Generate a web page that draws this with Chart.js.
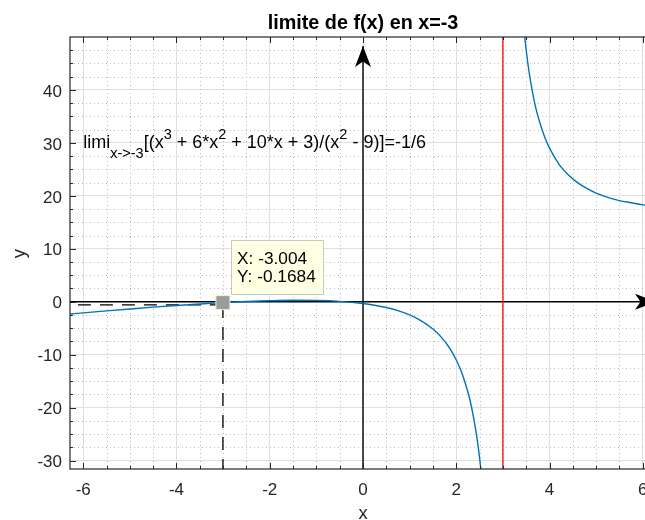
<!DOCTYPE html>
<html>
<head>
<meta charset="utf-8">
<script src="https://cdn.jsdelivr.net/npm/chart.js@4.4.1/dist/chart.umd.min.js"></script>
<style>
html,body{margin:0;padding:0;background:#fff;overflow:hidden;width:645px;height:520px;}
#wrap{width:645px;height:520px;overflow:hidden;position:relative;}
canvas{display:block;}
</style>
</head>
<body>
<div id="wrap"><canvas id="c" width="670" height="520"></canvas></div>
<script>
// ---- data ----
const titleText = 'limite de f(x) en x=-3';
const xLabel = 'x';
const yLabel = 'y';
const xTicks = [-6, -4, -2, 0, 2, 4, 6];
const yTicks = [-30, -20, -10, 0, 10, 20, 30, 40];
const xMinorTicks = [-5.5, -5, -4.5, -3.5, -3, -2.5, -1.5, -1, -0.5, 0.5, 1, 1.5, 2.5, 3, 3.5, 4.5, 5, 5.5];
const yMinorTicks = [-27.5, -25, -22.5, -17.5, -15, -12.5, -7.5, -5, -2.5, 2.5, 5, 7.5, 12.5, 15, 17.5, 22.5, 25, 27.5, 32.5, 35, 37.5, 42.5, 45, 47.5];
const xRange = [-6.2832, 6.2832];
const yRange = [-31.6, 50];

// left branch of the curve
const leftX = [-6.2832, -6, -5.5, -5, -4.5, -4, -3.5, -3, -2.5, -2, -1.5, -1, -0.5, 0, 0.25, 0.5, 0.75, 1, 1.25, 1.5, 1.6, 1.7, 1.8, 1.9, 2.0, 2.1, 2.2, 2.3, 2.4, 2.45, 2.5, 2.55, 2.6];
const leftY = [-2.33, -2.11, -1.74, -1.38, -1.03, -0.71, -0.42, -0.17, 0.05, 0.20, 0.28, 0.25, 0.07, -0.33, -0.66, -1.10, -1.69, -2.50, -3.61, -5.17, -5.97, -6.92, -8.03, -9.37, -11.0, -13.0, -15.6, -18.8, -23.3, -26.1, -29.5, -33.7, -38.9];
// right branch of the curve
const rightX = [3.3, 3.35, 3.4, 3.45, 3.5, 3.55, 3.6, 3.7, 3.8, 3.9, 4.0, 4.2, 4.4, 4.6, 4.8, 5.0, 5.25, 5.5, 5.75, 6.0, 6.2832];
const rightY = [72.6, 63.6, 56.9, 51.7, 47.5, 44.1, 41.3, 36.8, 33.6, 31.0, 29.0, 26.0, 24.0, 22.5, 21.4, 20.5, 19.7, 19.1, 18.7, 18.3, 18.1];

// vertical asymptote (red)
const redX = [3, 3];
const redY = [-31.6, 50];
// axis arrows
const hArrowX = [-6.2832, 6.2832];
const hArrowY = [0, 0];
const vArrowX = [0, 0];
const vArrowY = [-31.6, 48.3];
// dashed guide lines
const hDashX = [-3.004, -6.2832];
const hDashY = [-0.6, -0.6];
const vDashX = [-3.004, -3.004];
const vDashY = [-0.6, -31.6];
// data tip
const tipX = [-3.004];
const tipY = [-0.1684];
// annotation (text placed at x=-6, y=30)
const annoPos = [-6, 30];
const annoParts = [
  ['limi', 'n'], ['x->-3', 'sub'], ['[(x', 'n'], ['3', 'sup'], [' + 6*x', 'n'], ['2', 'sup'],
  [' + 10*x + 3)/(x', 'n'], ['2', 'sup'], [' - 9)]=-1/6', 'n']
];

// ---- chart ----
const FONT = "'Liberation Sans', Arial, Helvetica, sans-serif";
Chart.defaults.font.family = FONT;
const pts = (xs, ys) => xs.map((x, i) => ({x: x, y: ys[i]}));

function arrowHead(ctx, tx, ty, dx, dy, len, half, notch) {
  const px = -dy, py = dx;
  const bx = tx - dx * len, by = ty - dy * len;
  const nx = tx - dx * (len - notch), ny = ty - dy * (len - notch);
  ctx.beginPath();
  ctx.moveTo(tx, ty);
  ctx.lineTo(bx + px * half, by + py * half);
  ctx.lineTo(nx, ny);
  ctx.lineTo(bx - px * half, by - py * half);
  ctx.closePath();
  ctx.fill();
}

const deco = {
  id: 'deco',
  beforeDatasetsDraw(chart) {
    const {ctx, chartArea: a, scales: {x, y}} = chart;
    ctx.save();
    ctx.strokeStyle = '#bcbcbc';
    ctx.lineWidth = 1;
    ctx.setLineDash([1, 3]);
    xMinorTicks.forEach(v => {
      const p = Math.round(x.getPixelForValue(v)) + 0.5;
      ctx.beginPath(); ctx.moveTo(p, a.top); ctx.lineTo(p, a.bottom); ctx.stroke();
    });
    yMinorTicks.forEach(v => {
      const p = Math.round(y.getPixelForValue(v)) + 0.5;
      ctx.beginPath(); ctx.moveTo(a.left, p); ctx.lineTo(a.right, p); ctx.stroke();
    });
    ctx.restore();
  },
  afterDatasetsDraw(chart) {
    const {ctx, chartArea: a, scales: {x, y}} = chart;
    ctx.save();
    // arrow heads
    ctx.fillStyle = '#000';
    arrowHead(ctx, x.getPixelForValue(hArrowX[1]), y.getPixelForValue(hArrowY[1]), 1, 0, 21, 8, 5.5);
    arrowHead(ctx, x.getPixelForValue(vArrowX[1]), y.getPixelForValue(vArrowY[1]), 0, -1, 21, 8, 5.5);

    // axes box
    ctx.strokeStyle = '#262626';
    ctx.lineWidth = 1.2;
    ctx.strokeRect(a.left, a.top, a.right - a.left, a.bottom - a.top);
    // tick marks (inside)
    ctx.lineWidth = 1;
    const tickX = (v, L) => {
      const p = Math.round(x.getPixelForValue(v)) + 0.5;
      ctx.beginPath();
      ctx.moveTo(p, a.bottom); ctx.lineTo(p, a.bottom - L);
      ctx.moveTo(p, a.top); ctx.lineTo(p, a.top + L);
      ctx.stroke();
    };
    const tickY = (v, L) => {
      const p = Math.round(y.getPixelForValue(v)) + 0.5;
      ctx.beginPath();
      ctx.moveTo(a.left, p); ctx.lineTo(a.left + L, p);
      ctx.moveTo(a.right, p); ctx.lineTo(a.right - L, p);
      ctx.stroke();
    };
    xTicks.forEach(v => tickX(v, 6));
    yTicks.forEach(v => tickY(v, 6));
    xMinorTicks.forEach(v => tickX(v, 3));
    yMinorTicks.forEach(v => tickY(v, 3));

    // annotation with sub/superscripts
    let cx = x.getPixelForValue(annoPos[0]);
    const base = y.getPixelForValue(annoPos[1]) + 4.9;
    ctx.fillStyle = '#000';
    ctx.textAlign = 'left';
    ctx.textBaseline = 'alphabetic';
    annoParts.forEach(([t, m]) => {
      let dy = 0;
      if (m === 'n') { ctx.font = '18px ' + FONT; }
      else { ctx.font = '14.5px ' + FONT; dy = (m === 'sub') ? 10 : -8.6; }
      ctx.fillText(t, cx, base + dy);
      cx += ctx.measureText(t).width;
    });

    // data tip box
    const mx = x.getPixelForValue(tipX[0]), my = y.getPixelForValue(tipY[0]);
    const bx = Math.round(mx + 8.5) + 0.5, by = Math.round(my - 63) + 0.5;
    ctx.fillStyle = '#ffffe3';
    ctx.fillRect(bx, by, 92, 54);
    ctx.strokeStyle = '#c9c9c2';
    ctx.lineWidth = 1;
    ctx.strokeRect(bx, by, 92, 54);
    ctx.fillStyle = '#000';
    ctx.font = '17.3px ' + FONT;
    ctx.fillText('X: ' + tipX[0].toFixed(3), bx + 5.5, by + 23.3);
    ctx.fillText('Y: ' + tipY[0].toFixed(4), bx + 5.5, by + 41.3);
    ctx.restore();
  },
  afterDraw(chart) {
    const {ctx, chartArea: a} = chart;
    ctx.save();
    ctx.fillStyle = '#000';
    ctx.textAlign = 'center';
    ctx.textBaseline = 'alphabetic';
    ctx.font = 'bold 19.8px ' + FONT;
    ctx.fillText(titleText, (a.left + a.right) / 2, 29.3);
    ctx.fillStyle = '#262626';
    ctx.font = '18.5px ' + FONT;
    ctx.fillText(xLabel, (a.left + a.right) / 2, 518.5);
    ctx.translate(24.6, 253.5);
    ctx.rotate(-Math.PI / 2);
    ctx.fillText(yLabel, 0, 0);
    ctx.restore();
  }
};

new Chart(document.getElementById('c'), {
  type: 'line',
  data: {
    datasets: [
      {data: pts(tipX, tipY), showLine: false, pointStyle: 'rect', pointRadius: 9.9,
       pointBackgroundColor: '#9c9c9c', pointBorderColor: '#f3f0c6', pointBorderWidth: 1},
      {data: pts(leftX, leftY), borderColor: '#0072BD', borderWidth: 1.4, cubicInterpolationMode: 'monotone'},
      {data: pts(rightX, rightY), borderColor: '#0072BD', borderWidth: 1.4, cubicInterpolationMode: 'monotone'},
      {data: pts(hDashX, hDashY), borderColor: '#000', borderWidth: 1.3, borderDash: [13, 9]},
      {data: pts(vDashX, vDashY), borderColor: '#000', borderWidth: 1.3, borderDash: [13, 9]},
      {data: pts(redX, redY), borderColor: '#ff0000', borderWidth: 1.3},
      {data: pts(hArrowX, hArrowY), borderColor: '#000', borderWidth: 1.4},
      {data: pts(vArrowX, vArrowY), borderColor: '#000', borderWidth: 1.4}
    ]
  },
  options: {
    responsive: false,
    animation: false,
    devicePixelRatio: 1,
    events: [],
    elements: {point: {radius: 0}, line: {tension: 0, fill: false}},
    layout: {padding: {left: 0, right: 14, top: 37, bottom: 0}},
    plugins: {legend: {display: false}, tooltip: {enabled: false}, title: {display: false}},
    scales: {
      x: {
        type: 'linear', min: xRange[0], max: xRange[1],
        afterBuildTicks: s => { s.ticks = xTicks.map(v => ({value: v})); },
        afterFit: s => { s.height = 51; },
        grid: {color: '#dfdfdf', lineWidth: 1, drawTicks: false},
        border: {display: false},
        ticks: {autoSkip: false, maxRotation: 0, minRotation: 0, padding: 11, color: '#262626', font: {size: 17}}
      },
      y: {
        type: 'linear', min: yRange[0], max: yRange[1],
        afterBuildTicks: s => { s.ticks = yTicks.map(v => ({value: v})); },
        afterFit: s => { s.width = 70; },
        grid: {color: '#dfdfdf', lineWidth: 1, drawTicks: false},
        border: {display: false},
        ticks: {autoSkip: false, padding: 8, labelOffset: 2, color: '#262626', font: {size: 17}}
      }
    }
  },
  plugins: [deco]
});
</script>
</body>
</html>
